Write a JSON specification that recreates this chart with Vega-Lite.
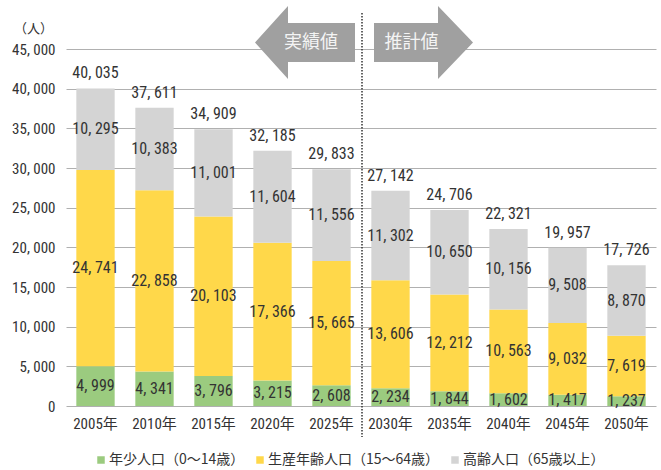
{
  "$schema": "https://vega.github.io/schema/vega-lite/v6.json",
  "width": 594,
  "height": 357,
  "autosize": {"type": "none"},
  "padding": {"left": 66, "top": 49, "right": 1, "bottom": 64},
  "background": "white",
  "config": {
    "view": {"stroke": null},
    "font": "Roboto Condensed, Liberation Sans Narrow, Arial Narrow, Nimbus Sans Narrow, DejaVu Sans Condensed, Roboto, Noto Sans CJK JP, sans-serif"
  },
  "resolve": {"axis": {"y": "independent"}},
  "datasets": {
    "pop": [
      {"year": "2005年", "group": "年少人口（0～14歳）", "value": 4999},
      {"year": "2005年", "group": "生産年齢人口（15～64歳）", "value": 24741},
      {"year": "2005年", "group": "高齢人口（65歳以上）", "value": 10295},
      {"year": "2010年", "group": "年少人口（0～14歳）", "value": 4341},
      {"year": "2010年", "group": "生産年齢人口（15～64歳）", "value": 22858},
      {"year": "2010年", "group": "高齢人口（65歳以上）", "value": 10383},
      {"year": "2015年", "group": "年少人口（0～14歳）", "value": 3796},
      {"year": "2015年", "group": "生産年齢人口（15～64歳）", "value": 20103},
      {"year": "2015年", "group": "高齢人口（65歳以上）", "value": 11001},
      {"year": "2020年", "group": "年少人口（0～14歳）", "value": 3215},
      {"year": "2020年", "group": "生産年齢人口（15～64歳）", "value": 17366},
      {"year": "2020年", "group": "高齢人口（65歳以上）", "value": 11604},
      {"year": "2025年", "group": "年少人口（0～14歳）", "value": 2608},
      {"year": "2025年", "group": "生産年齢人口（15～64歳）", "value": 15665},
      {"year": "2025年", "group": "高齢人口（65歳以上）", "value": 11556},
      {"year": "2030年", "group": "年少人口（0～14歳）", "value": 2234},
      {"year": "2030年", "group": "生産年齢人口（15～64歳）", "value": 13606},
      {"year": "2030年", "group": "高齢人口（65歳以上）", "value": 11302},
      {"year": "2035年", "group": "年少人口（0～14歳）", "value": 1844},
      {"year": "2035年", "group": "生産年齢人口（15～64歳）", "value": 12212},
      {"year": "2035年", "group": "高齢人口（65歳以上）", "value": 10650},
      {"year": "2040年", "group": "年少人口（0～14歳）", "value": 1602},
      {"year": "2040年", "group": "生産年齢人口（15～64歳）", "value": 10563},
      {"year": "2040年", "group": "高齢人口（65歳以上）", "value": 10156},
      {"year": "2045年", "group": "年少人口（0～14歳）", "value": 1417},
      {"year": "2045年", "group": "生産年齢人口（15～64歳）", "value": 9032},
      {"year": "2045年", "group": "高齢人口（65歳以上）", "value": 9508},
      {"year": "2050年", "group": "年少人口（0～14歳）", "value": 1237},
      {"year": "2050年", "group": "生産年齢人口（15～64歳）", "value": 7619},
      {"year": "2050年", "group": "高齢人口（65歳以上）", "value": 8870}
    ],
    "totals": [
      {"year": "2005年", "total": 40035},
      {"year": "2010年", "total": 37611},
      {"year": "2015年", "total": 34909},
      {"year": "2020年", "total": 32185},
      {"year": "2025年", "total": 29833},
      {"year": "2030年", "total": 27142},
      {"year": "2035年", "total": 24706},
      {"year": "2040年", "total": 22321},
      {"year": "2045年", "total": 19957},
      {"year": "2050年", "total": 17726}
    ]
  },
  "layer": [
    {
      "data": {"name": "pop"},
      "mark": {"type": "bar"},
      "encoding": {
        "x": {
          "field": "year", "type": "nominal", "sort": null,
          "scale": {"range": [0, 590], "paddingInner": 0.35, "paddingOuter": 0.175},
          "axis": {"title": null, "domain": false, "ticks": false, "labelAngle": 0, "labelPadding": 10, "labelFontSize": 15, "labelColor": "#333333"}
        },
        "y": {
          "field": "value", "type": "quantitative", "stack": "zero",
          "scale": {"domain": [0, 45000], "nice": false},
          "axis": {
            "title": "（人）", "titleAngle": 0, "titleX": -33, "titleY": -21, "titleAlign": "center", "titleBaseline": "middle",
            "titleFontSize": 13, "titleFontWeight": "normal", "titleColor": "#333333", "titleFont": "Noto Sans CJK JP",
            "values": [0, 5000, 10000, 15000, 20000, 25000, 30000, 35000, 40000, 45000],
            "labelOverlap": false,
            "labelExpr": "replace(format(datum.value, ','), ',', ', ')",
            "domain": false, "ticks": false, "labelPadding": 11, "labelFontSize": 15, "labelColor": "#333333",
            "grid": true, "gridColor": "#b0b0b0", "gridWidth": 1
          }
        },
        "color": {
          "field": "group", "type": "nominal",
          "scale": {
            "domain": ["年少人口（0～14歳）", "生産年齢人口（15～64歳）", "高齢人口（65歳以上）"],
            "range": ["#9bcb7f", "#ffd84a", "#d4d4d4"]
          },
          "legend": {
            "title": null, "orient": "none", "legendX": 28, "legendY": 404, "direction": "horizontal",
            "symbolType": "square", "symbolSize": 56, "symbolStrokeWidth": 0, "labelFontSize": 14, "labelColor": "#333333",
            "labelFont": "Noto Sans CJK JP", "labelLimit": 400, "columnPadding": 8, "labelOffset": 1, "padding": 0
          }
        },
        "order": {"field": "group", "type": "nominal", "sort": "ascending"}
      }
    },
    {
      "data": {"name": "pop"},
      "transform": [
        {"stack": "value", "groupby": ["year"], "sort": [{"field": "group"}], "as": ["v0", "v1"]},
        {"calculate": "(datum.v0 + datum.v1) / 2", "as": "mid"},
        {"calculate": "replace(format(datum.value, ','), ',', ', ')", "as": "label"}
      ],
      "mark": {"type": "text", "fontSize": 16, "color": "#333333", "baseline": "middle"},
      "encoding": {
        "x": {"field": "year", "type": "nominal", "sort": null},
        "y": {"field": "mid", "type": "quantitative", "axis": null},
        "text": {"field": "label", "type": "nominal"}
      }
    },
    {
      "data": {"name": "totals"},
      "transform": [
        {"calculate": "replace(format(datum.total, ','), ',', ', ')", "as": "label"}
      ],
      "mark": {"type": "text", "fontSize": 16, "color": "#333333", "baseline": "middle", "dy": -15},
      "encoding": {
        "x": {"field": "year", "type": "nominal", "sort": null},
        "y": {"field": "total", "type": "quantitative", "axis": null},
        "text": {"field": "label", "type": "nominal"}
      }
    },
    {
      "data": {"values": [{}]},
      "mark": {"type": "rule", "color": "#333333", "strokeWidth": 1.5, "strokeDash": [1.5, 1.5], "xOffset": 30.5, "yOffset": -36, "y2Offset": 31},
      "encoding": {
        "x": {"datum": "2025年", "type": "nominal"},
        "y": {"datum": 45000, "type": "quantitative", "axis": null},
        "y2": {"datum": 0}
      }
    },
    {
      "data": {"values": [{}]},
      "mark": {"type": "point", "filled": true, "opacity": 1, "color": "#a0a0a0", "strokeWidth": 0, "size": 4,
        "shape": "M-76.5,-6.5 L-43.5,-43 L-43.5,-26 L23.5,-26 L23.5,13 L-43.5,13 L-43.5,30 Z"},
      "encoding": {
        "x": {"datum": "2025年", "type": "nominal"},
        "y": {"datum": 45000, "type": "quantitative", "axis": null}
      }
    },
    {
      "data": {"values": [{}]},
      "mark": {"type": "point", "filled": true, "opacity": 1, "color": "#a0a0a0", "strokeWidth": 0, "size": 4,
        "shape": "M82.5,-6.5 L47.5,-43 L47.5,-26 L-16.5,-26 L-16.5,13 L47.5,13 L47.5,30 Z"},
      "encoding": {
        "x": {"datum": "2030年", "type": "nominal"},
        "y": {"datum": 45000, "type": "quantitative", "axis": null}
      }
    },
    {
      "data": {"values": [{}]},
      "mark": {"type": "text", "text": "実績値", "font": "Noto Sans CJK JP", "fontSize": 18, "color": "#f4f4f4", "baseline": "middle", "dx": -20.5, "dy": -6.5},
      "encoding": {
        "x": {"datum": "2025年", "type": "nominal"},
        "y": {"datum": 45000, "type": "quantitative", "axis": null}
      }
    },
    {
      "data": {"values": [{}]},
      "mark": {"type": "text", "text": "推計値", "font": "Noto Sans CJK JP", "fontSize": 18, "color": "#f4f4f4", "baseline": "middle", "dx": 21, "dy": -6.5},
      "encoding": {
        "x": {"datum": "2030年", "type": "nominal"},
        "y": {"datum": 45000, "type": "quantitative", "axis": null}
      }
    }
  ]
}
